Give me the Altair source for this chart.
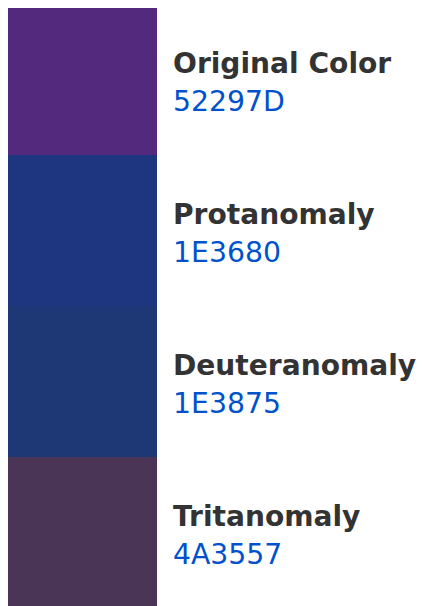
import altair as alt
import pandas as pd

labels = ["Original Color", "Protanomaly", "Deuteranomaly", "Tritanomaly"]
hex_codes = ["52297D", "1E3680", "1E3875", "4A3557"]
order = [0, 1, 2, 3]

df = pd.DataFrame({
    "label": labels,
    "hex": hex_codes,
    "fill": ["#" + h for h in hex_codes],
    "start": order,
    "end": [o + 1 for o in order],
    "mid": [o + 0.5 for o in order],
})

yscale = alt.Scale(domain=[0, 4], range=[-4, 600])

base = alt.Chart(df)

swatch = base.mark_rect().encode(
    x=alt.value(-3),
    x2=alt.value(149),
    y=alt.Y("start:Q", scale=yscale, axis=None),
    y2="end:Q",
    color=alt.Color("fill:N", scale=None, legend=None),
)

title_text = base.mark_text(
    align="left", baseline="alphabetic", dy=-6.5,
    font="DejaVu Sans", fontSize=28.1, fontWeight="bold", color="#333333",
).encode(
    x=alt.value(165),
    y=alt.Y("mid:Q", scale=yscale, axis=None),
    text="label:N",
)

hex_text = base.mark_text(
    align="left", baseline="alphabetic", dy=31.5,
    font="DejaVu Sans", fontSize=28.3, color="#0052CC",
).encode(
    x=alt.value(165),
    y=alt.Y("mid:Q", scale=yscale, axis=None),
    text="hex:N",
)

chart = alt.layer(swatch, title_text, hex_text).properties(
    width=409, height=598,
    autosize=alt.AutoSizeParams(type="none"),
    padding=0,
).configure_view(stroke=None)

chart.save("out.html", embed_options={"renderer": "svg", "actions": False})
